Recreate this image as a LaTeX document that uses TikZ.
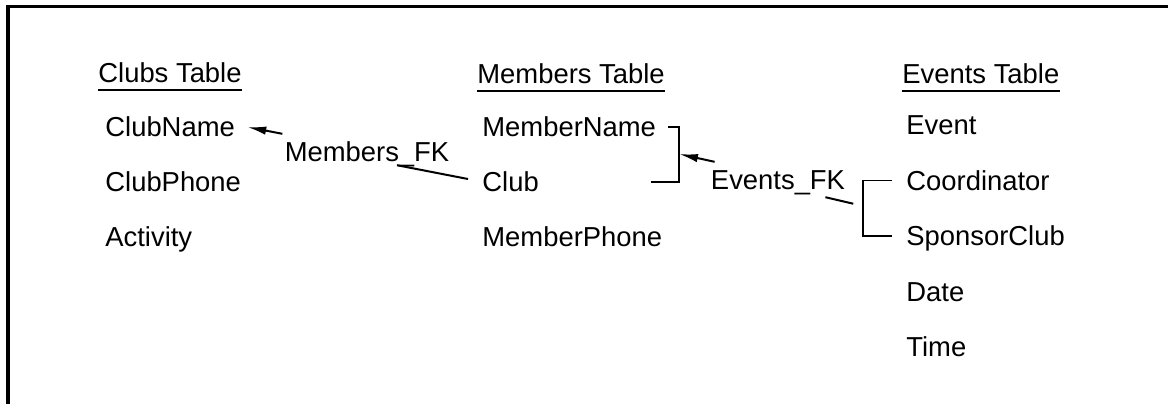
\documentclass[tikz,border=0pt]{standalone}
\usepackage{fontspec}
\setmainfont{Liberation Sans}
\usepackage{tikz}
\usetikzlibrary{positioning,arrows.meta}
\newcommand{\tabfont}{\fontsize{13.7}{16}\selectfont}
\tikzset{
    table head/.style={inner sep=0pt, text depth=4pt, anchor=base west, font=\tabfont},
    field/.style={inner sep=1pt, text height=9.8pt, text depth=0pt, anchor=west, font=\tabfont},
    fk label/.style={inner sep=0pt, text height=9.8pt, text depth=0pt, font=\tabfont},
    head line/.style={line width=1pt},
    bracket/.style={line width=0.7pt},
    fk arrow/.style={-{Latex[length=9.5pt,width=4.2pt]}, line width=1pt},
    fk line/.style={line width=1pt},
    frame/.style={line width=1.6pt}
}

\begin{document}
\begin{tikzpicture}[x=0.5pt, y=-0.5pt]
\useasboundingbox (0,0) rectangle (1168,404);
\draw[frame] (1168,6.5) -- (8,6.5) -- (8,404);

% table headings
\node[table head] (clubs) at (98,82) {Clubs Table};
\node[table head] (members) at (477,83) {Members Table};
\node[table head] (events) at (902,83) {Events Table};
\draw[head line] (clubs.south west) -- (clubs.south east);
\draw[head line] (members.south west) -- (members.south east);
\draw[head line] (events.south west) -- (events.south east);

% clubs table
\node[field] (clubname) at (103,127) {ClubName};
\node[field, below=27.5pt of clubname.west, anchor=west] (clubphone) {ClubPhone};
\node[field, below=27.5pt of clubphone.west, anchor=west] (activity) {Activity};

% members table
\node[field] (membername) at (480,127) {MemberName};
\node[field, below=27.5pt of membername.west, anchor=west] (club) {Club};
\node[field, below=27.5pt of club.west, anchor=west] (memberphone) {MemberPhone};

% events table
\node[field] (event) at (904,125) {Event};
\node[field, below=27.7pt of event.west, anchor=west] (coordinator) {Coordinator};
\node[field, below=27.7pt of coordinator.west, anchor=west] (sponsorclub) {SponsorClub};
\node[field, below=27.7pt of sponsorclub.west, anchor=west] (date) {Date};
\node[field, below=27.7pt of date.west, anchor=west] (time) {Time};

% foreign keys
\node[fk label] (membersfk) at (367,152) {Members\_FK};
\node[fk label] (eventsfk) at (778,180) {Events\_FK};

\coordinate (mbrack) at (679,154);
\coordinate (ebrack) at (863,206);
\draw[bracket] ([xshift=5pt]membername.east) -| (mbrack) |- ([xshift=-14pt]mbrack |- club.east);
\draw[bracket] ([xshift=-6pt]coordinator.west) -| (ebrack) |- ([xshift=-6pt]sponsorclub.west);

\draw[fk arrow] ([shift={(-1pt,4pt)}]membersfk.north west) -- ([xshift=5pt]clubname.east);
\draw[fk line] (club.west) ++(-6pt,1.5pt) -- ([shift={(15pt,-1.5pt)}]membersfk.south);
\draw[fk arrow] ([shift={(2pt,4pt)}]eventsfk.north west) -- (mbrack);
\draw[fk line, shorten >=5pt] ([shift={(-10pt,-3.5pt)}]eventsfk.south east) -- (ebrack);
\end{tikzpicture}
\end{document}
